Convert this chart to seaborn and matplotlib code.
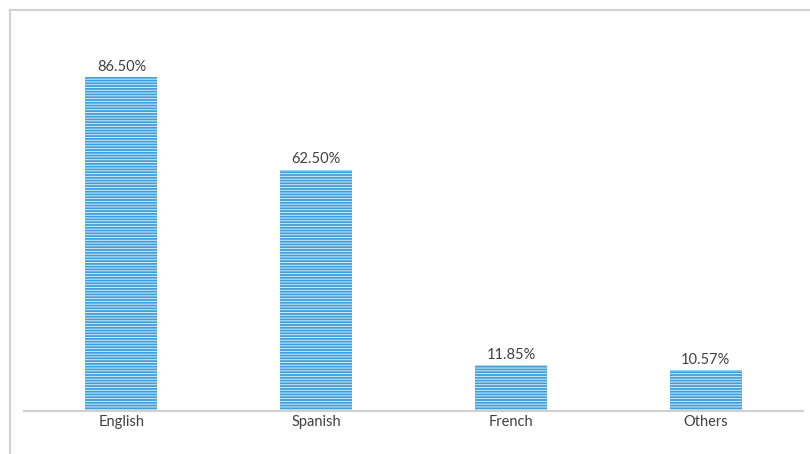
import matplotlib
matplotlib.use("Agg")
import matplotlib.pyplot as plt
import seaborn as sns
import pandas as pd
from matplotlib.lines import Line2D

categories = ["English", "Spanish", "French", "Others"]
values = [86.50, 62.50, 11.85, 10.57]
labels = ["86.50%", "62.50%", "11.85%", "10.57%"]

sns.set_theme(style="white")
plt.rcParams['font.family'] = ['Lato', 'DejaVu Sans']
plt.rcParams['hatch.linewidth'] = 0.7

df = pd.DataFrame({"cat": categories, "val": values})

W, H = 810, 454
fig = plt.figure(figsize=(W/100, H/100), dpi=100)
ax = fig.add_axes([24/W, (H-411)/H, (803-24)/W, (411-25)/H])

sns.barplot(data=df, x="cat", y="val", ax=ax, color="#3d9fdc", width=0.37,
            saturation=1)
for p in ax.patches:
    p.set_facecolor("#3d9fdc")
    p.set_edgecolor("#d6ecfa")
    p.set_linewidth(0)
    p.set_hatch("------")

ax.set_ylim(0, 100)
ax.set_xlim(-0.5, 3.5)
for i, (v, t) in enumerate(zip(values, labels)):
    ax.annotate(t, (i, v), xytext=(0, 2.5), textcoords="offset points",
                ha="center", va="bottom", fontsize=10.5, color="#404040")

ax.set_xlabel("")
ax.set_ylabel("")
ax.set_yticks([])
ax.tick_params(axis="x", length=0, labelsize=10.5, labelcolor="#404040", pad=3)
for s in ["top", "right", "left"]:
    ax.spines[s].set_visible(False)
ax.spines["bottom"].set_color("#d0d0d0")
ax.spines["bottom"].set_linewidth(1.5)

# outer frame lines (left and top)
fig.add_artist(Line2D([9.5/W, 9.5/W], [0, (H-10)/H], color="#d0d0d0", lw=1.5,
                      transform=fig.transFigure))
fig.add_artist(Line2D([9.5/W, 1], [(H-10)/H, (H-10)/H], color="#d0d0d0", lw=1.5,
                      transform=fig.transFigure))

fig.savefig("out.png", dpi=100)
